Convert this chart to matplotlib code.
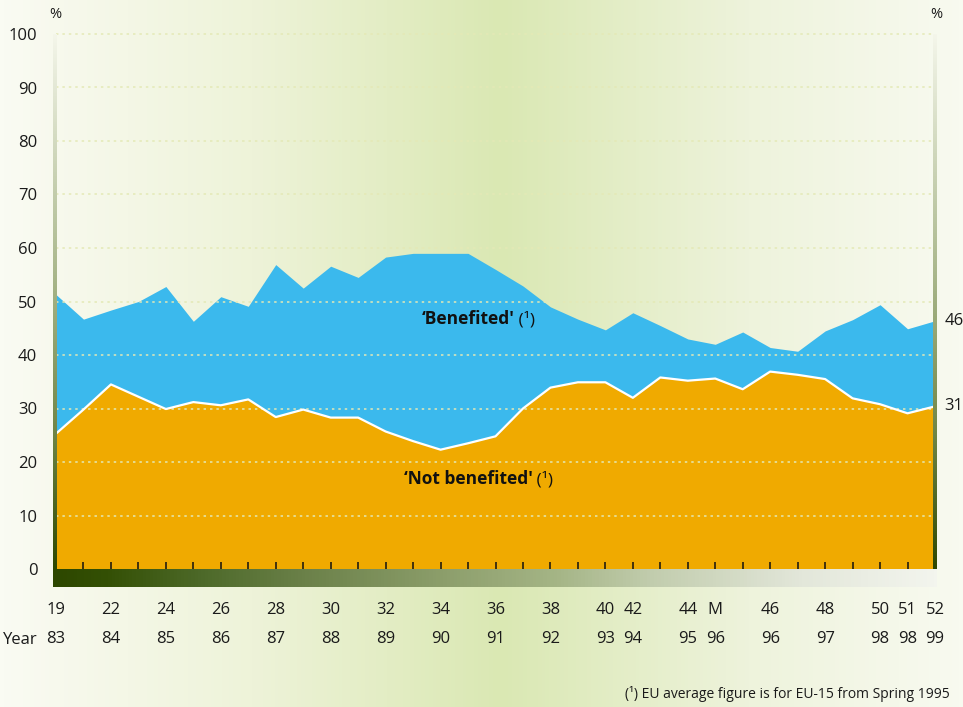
import numpy as np
import matplotlib.pyplot as plt
from matplotlib.colors import LinearSegmentedColormap

plt.rcParams['font.family'] = ['Open Sans', 'DejaVu Sans']

# survey index 0..32 (Eurobarometer waves, 1983-1999)
waves = np.arange(33)
benefited = [51.3, 46.7, 48.4, 50.0, 52.8, 46.3, 50.9, 49.1, 56.9, 52.5, 56.6,
             54.5, 58.3, 59.0, 59.0, 59.0, 56.0, 52.9, 49.0, 46.7, 44.7, 47.9,
             45.5, 43.0, 42.0, 44.3, 41.4, 40.7, 44.5, 46.6, 49.4, 44.9, 46.4]
not_benefited = [25.3, 29.8, 34.5, 32.2, 29.9, 31.2, 30.6, 31.7, 28.4, 29.8, 28.3,
                 28.3, 25.7, 23.9, 22.3, 23.5, 24.8, 30.0, 33.9, 34.9, 34.9, 32.0,
                 35.8, 35.2, 35.6, 33.6, 36.9, 36.3, 35.5, 31.9, 30.8, 29.1, 30.4]
end_labels = ['46', '31']

label_pos = [0, 2, 4, 6, 8, 10, 12, 14, 16, 18, 20, 21, 23, 24, 26, 28, 30, 31, 32]
survey_no = ['19', '22', '24', '26', '28', '30', '32', '34', '36', '38', '40',
             '42', '44', 'M', '46', '48', '50', '51', '52']
years = ['83', '84', '85', '86', '87', '88', '89', '90', '91', '92', '93',
         '94', '95', '96', '96', '97', '98', '98', '99']

blue = '#3bb9ed'
orange = '#f0aa00'
ink = '#1a1a1a'
W, H = 963, 707
fs = 12

fig = plt.figure(figsize=(W / 100, H / 100), dpi=100)

# background wash
bg = fig.add_axes([0, 0, 1, 1])
bg_cmap = LinearSegmentedColormap.from_list(
    'bg', [(0, '#fafbf3'), (0.26, '#eef3d9'), (0.52, '#dae8b3'),
           (0.78, '#eef3dc'), (1, '#f8faf0')])
bg.imshow(np.linspace(0, 1, 256)[None, :], cmap=bg_cmap, extent=(0, W, H, 0), aspect='auto')
bg.set_xlim(0, W)
bg.set_ylim(H, 0)
bg.axis('off')

ax = fig.add_axes([56 / W, 1 - 569 / H, (935 - 56) / W, (569 - 34) / H])
ax.set_zorder(1)
ax.patch.set_alpha(0)

ax.fill_between(waves, 0, benefited, color=blue, lw=0, zorder=1)
ax.fill_between(waves, 0, not_benefited, color=orange, lw=0, zorder=2)
ax.hlines(np.arange(10, 101, 10), 0, 32, colors='#e4e9b6', lw=1.1,
          linestyles=(0, (1.6, 2.6)), zorder=2.6, clip_on=False)
ax.plot(waves, not_benefited, color='white', lw=1.6, zorder=3)

ax.set_xlim(0, 32)
ax.set_ylim(0, 100)
for s in ax.spines.values():
    s.set_visible(False)
ax.xaxis.set_zorder(4)

ax.set_yticks(np.arange(0, 101, 10))
ax.tick_params(axis='y', length=0, pad=13.5, labelsize=fs, labelcolor=ink)

ax.xaxis.remove_overlapping_locs = False
ax.set_xticks(label_pos)
ax.set_xticklabels([f'{a}\n{b}' for a, b in zip(survey_no, years)], linespacing=2.1)
ax.set_xticks(waves[1:-1], minor=True)
ax.tick_params(axis='x', which='major', length=0, pad=23.5, labelsize=fs, labelcolor=ink)
ax.tick_params(axis='x', which='minor', direction='in', length=4.8, width=1.1,
               color='#111111', bottom=True)

# series labels
t1 = ax.text(15, 46.7, '‘Benefited\'', ha='center', va='center',
             fontsize=12.5, fontweight='bold', color='#111111', zorder=5)
ax.annotate(' (¹)', xy=(1, 0), xycoords=t1, va='bottom', fontsize=12.5,
            color='#111111', zorder=5)
t2 = ax.text(15, 16.8, '‘Not benefited\'', ha='center', va='center',
             fontsize=12.5, fontweight='bold', color='#111111', zorder=5)
ax.annotate(' (¹)', xy=(1, 0), xycoords=t2, va='bottom', fontsize=12.5,
            color='#111111', zorder=5)

# end values
for val, lab in zip([benefited[-1], not_benefited[-1]], end_labels):
    ax.annotate(lab, xy=(32, val), xytext=(7, 0), textcoords='offset points',
                va='center', ha='left', fontsize=fs, color=ink,
                annotation_clip=False)

# overlay: axis bars and bottom band
ov = fig.add_axes([0, 0, 1, 1])
ov.set_zorder(2)
ov.patch.set_alpha(0)
bar_cmap = LinearSegmentedColormap.from_list(
    'bar', [(0, '#f4f6ea'), (0.45, '#a9b78b'), (0.75, '#6f8545'), (1, '#2e4800')])
col = np.linspace(0, 1, 256)[:, None]
ov.imshow(col, cmap=bar_cmap, extent=(53, 56.5, 569, 34), aspect='auto')
ov.imshow(col, cmap=bar_cmap, extent=(933, 936.5, 569, 34), aspect='auto')
band_cmap = LinearSegmentedColormap.from_list(
    'band', [(0, '#2d4700'), (0.06, '#345005'), (0.17, '#4e6a2a'), (0.28, '#6a8048'),
             (0.44, '#8c9e6b'), (0.57, '#a5b586'), (0.68, '#c2cdae'), (0.85, '#e3e7da'),
             (1, '#f3f5ee')])
ov.imshow(np.linspace(0, 1, 256)[None, :], cmap=band_cmap, extent=(53, 937, 587, 569), aspect='auto')
ov.set_xlim(0, W)
ov.set_ylim(H, 0)
ov.axis('off')

ov.text(55.5, 14, '%', ha='center', va='center', fontsize=10.5, color=ink)
ov.text(936, 14, '%', ha='center', va='center', fontsize=10.5, color=ink)
ov.text(3, 640, 'Year', ha='left', va='center', fontsize=fs, color=ink)
ov.text(950, 694, '(¹) EU average figure is for EU-15 from Spring 1995',
        ha='right', va='center', fontsize=10, color=ink)

fig.savefig('out.png', dpi=100)
